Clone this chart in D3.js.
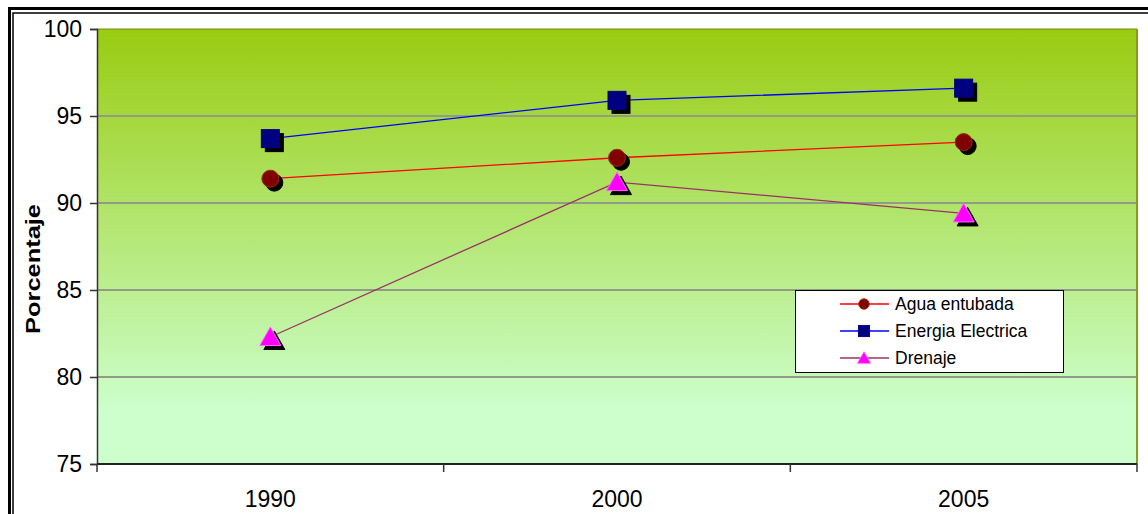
<!DOCTYPE html>
<html>
<head>
<meta charset="utf-8">
<script src="https://cdn.jsdelivr.net/npm/d3@7"></script>
<style>
  html, body { margin: 0; padding: 0; background: #ffffff; }
  svg { display: block; }
  text { font-family: Arial, "Liberation Sans", sans-serif; fill: #000; }
</style>
</head>
<body>
<svg id="chart" width="1148" height="514"></svg>
<script>
// ---- data ----
const categories = ["1990", "2000", "2005"];
const aguaEntubada = [91.4, 92.6, 93.5];
const energiaElectrica = [93.7, 95.9, 96.6];
const drenaje = [82.3, 91.2, 89.4];
const seriesNames = ["Agua entubada", "Energia Electrica", "Drenaje"];
const yTicks = [75, 80, 85, 90, 95, 100];
const yTitle = "Porcentaje";

const series = [
  { name: seriesNames[0], values: aguaEntubada, line: "#ff0000", fill: "#800000", stroke: "#993300", shape: "circle" },
  { name: seriesNames[1], values: energiaElectrica, line: "#0000ff", fill: "#000080", stroke: "#000080", shape: "square" },
  { name: seriesNames[2], values: drenaje, line: "#993366", fill: "#ff00ff", stroke: "#ff66ff", shape: "triangle" }
];

const svg = d3.select("#chart");
const W = 1148, H = 514;
const plot = { left: 97, right: 1137, top: 29, bottom: 464 };

// outer double frame
svg.append("rect").attr("x", 9.5).attr("y", 8.5).attr("width", W + 20).attr("height", H + 20)
  .attr("fill", "none").attr("stroke", "#000").attr("stroke-width", 3);
svg.append("rect").attr("x", 13).attr("y", 13).attr("width", W + 20).attr("height", H + 20)
  .attr("fill", "none").attr("stroke", "#000").attr("stroke-width", 1.5);

const x = d3.scaleBand().domain(categories).range([plot.left, plot.right]).paddingInner(0).paddingOuter(0);
const cx = d => x(d) + x.bandwidth() / 2;
const y = d3.scaleLinear().domain([75, 100]).range([plot.bottom, plot.top]);

// gradient background
const defs = svg.append("defs");
const grad = defs.append("linearGradient").attr("id", "bg").attr("x1", 0).attr("y1", 0).attr("x2", 0).attr("y2", 1);
grad.append("stop").attr("offset", "0%").attr("stop-color", "#99cc11");
grad.append("stop").attr("offset", "88%").attr("stop-color", "#ccffcc");
grad.append("stop").attr("offset", "100%").attr("stop-color", "#ccffcc");

svg.append("rect").attr("x", plot.left).attr("y", plot.top)
  .attr("width", plot.right - plot.left).attr("height", plot.bottom - plot.top)
  .attr("fill", "url(#bg)");

// gridlines
svg.append("g").selectAll("line").data(yTicks.filter(t => t > 75 && t < 100)).join("line")
  .attr("x1", plot.left).attr("x2", plot.right)
  .attr("y1", d => y(d)).attr("y2", d => y(d))
  .attr("stroke", "#929a88").attr("stroke-width", 2);

// plot borders
svg.append("line").attr("x1", plot.left).attr("x2", plot.right).attr("y1", plot.top).attr("y2", plot.top)
  .attr("stroke", "#7a8a10").attr("stroke-width", 1);
svg.append("line").attr("x1", plot.right).attr("x2", plot.right).attr("y1", plot.top).attr("y2", plot.bottom)
  .attr("stroke", "#8a9a20").attr("stroke-width", 2);

// y axis
const yAxis = d3.axisLeft(y).tickValues(yTicks).tickSize(7).tickPadding(8).tickFormat(d3.format("d"));
const gy = svg.append("g").attr("transform", `translate(${plot.left},0)`).call(yAxis);
gy.select(".domain").attr("stroke", "#333").attr("stroke-width", 1.5);
gy.selectAll(".tick line").attr("stroke", "#333").attr("stroke-width", 1.5);
gy.selectAll(".tick text").attr("font-size", 23).attr("font-family", "Arial, 'Liberation Sans', sans-serif").attr("fill", "#000");

// x axis
const gx = svg.append("g").attr("transform", `translate(0,${plot.bottom})`);
gx.append("line").attr("x1", plot.left).attr("x2", plot.right).attr("y1", 0).attr("y2", 0)
  .attr("stroke", "#222").attr("stroke-width", 2);
const boundaries = categories.map(c => x(c)).concat([plot.right]);
gx.selectAll("line.tk").data(boundaries).join("line").attr("class", "tk")
  .attr("x1", d => d).attr("x2", d => d).attr("y1", 0).attr("y2", 8)
  .attr("stroke", "#333").attr("stroke-width", 1.5);
gx.selectAll("text").data(categories).join("text")
  .attr("x", d => cx(d)).attr("y", 43)
  .attr("text-anchor", "middle").attr("font-size", 23)
  .text(d => d);

// y title
svg.append("text")
  .attr("transform", `translate(40,269) rotate(-90)`)
  .attr("text-anchor", "middle").attr("font-size", 20).attr("font-weight", "bold")
  .attr("textLength", 130).attr("lengthAdjust", "spacingAndGlyphs")
  .text(yTitle);

// lines
const lineGen = d3.line().x((v, i) => cx(categories[i])).y(v => y(v));
svg.append("g").selectAll("path").data(series).join("path")
  .attr("d", s => lineGen(s.values))
  .attr("fill", "none").attr("stroke", s => s.line).attr("stroke-width", 1.3);

function drawMarker(g, shape, px, py, fill, stroke, sw) {
  if (shape === "circle") {
    g.append("circle").attr("cx", px).attr("cy", py).attr("r", 8.5).attr("fill", fill).attr("stroke", stroke).attr("stroke-width", sw);
  } else if (shape === "square") {
    g.append("rect").attr("x", px - 9).attr("y", py - 9).attr("width", 18).attr("height", 18).attr("fill", fill).attr("stroke", stroke).attr("stroke-width", sw);
  } else {
    const pts = [[px, py - 10], [px + 10.5, py + 8.5], [px - 10.5, py + 8.5]];
    g.append("polygon").attr("points", pts.map(p => p.join(",")).join(" ")).attr("fill", fill).attr("stroke", stroke).attr("stroke-width", sw);
  }
}

// markers with shadow
const mg = svg.append("g");
series.forEach(s => {
  s.values.forEach((v, i) => {
    const px = cx(categories[i]), py = y(v);
    drawMarker(mg, s.shape, px + 4, py + 4, "#000", "#000", 1);
    drawMarker(mg, s.shape, px, py, s.fill, s.stroke, 1);
  });
});

// legend
const lg = svg.append("g");
lg.append("rect").attr("x", 795.5).attr("y", 290.5).attr("width", 268).attr("height", 82)
  .attr("fill", "#fff").attr("stroke", "#000").attr("stroke-width", 1);
series.forEach((s, i) => {
  const ly = 304 + i * 27;
  lg.append("line").attr("x1", 840).attr("x2", 889).attr("y1", ly).attr("y2", ly)
    .attr("stroke", s.line).attr("stroke-width", 1.5);
  const sc = lg.append("g").attr("transform", `translate(864,${ly}) scale(0.62)`);
  drawMarker(sc, s.shape, 0, 0, s.fill, s.stroke, 1.5);
  lg.append("text").attr("x", 895).attr("y", ly).attr("dy", "0.35em")
    .attr("font-size", 17.5).text(s.name);
});
</script>
</body>
</html>
